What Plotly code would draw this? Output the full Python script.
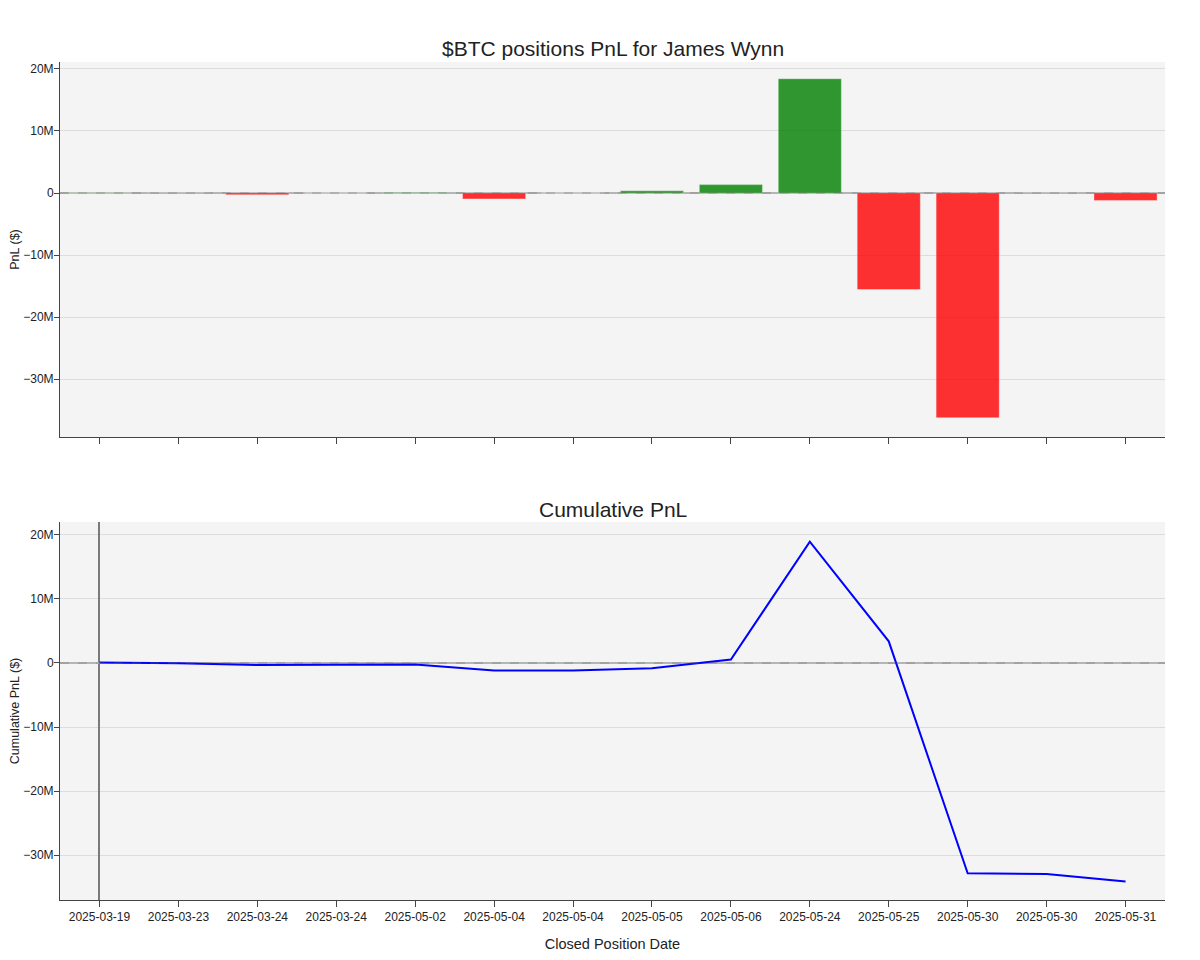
import numpy as np
import plotly.graph_objects as go
from plotly.subplots import make_subplots

dates = ["2025-03-19", "2025-03-23", "2025-03-24", "2025-03-24", "2025-05-02",
         "2025-05-04", "2025-05-04", "2025-05-05", "2025-05-06", "2025-05-24",
         "2025-05-25", "2025-05-30", "2025-05-30", "2025-05-31"]
pnl = [0.05e6, -0.08e6, -0.3e6, 0.0, 0.1e6, -0.95e6, 0.0, 0.35e6, 1.35e6,
       18.4e6, -15.55e6, -36.2e6, -0.1e6, -1.2e6]

idx = list(range(len(dates)))
cum = np.cumsum(pnl)
colors = ["green" if v >= 0 else "red" for v in pnl]

fig = make_subplots(rows=2, cols=1, vertical_spacing=0.1,
                    subplot_titles=("$BTC positions PnL for James Wynn", "Cumulative PnL"))

fig.add_trace(go.Bar(x=idx, y=pnl, marker=dict(color=colors, opacity=0.8,
                     line=dict(color="rgba(255,255,255,0.6)", width=0.6)),
                     width=0.8, showlegend=False), row=1, col=1)
fig.add_trace(go.Scatter(x=idx, y=cum, mode="lines", line=dict(color="blue", width=2),
                         showlegend=False), row=2, col=1)

for r in (1, 2):
    fig.add_hline(y=0, line=dict(color="#666666", dash="dash", width=1.6), row=r, col=1)

axis_common = dict(showline=True, linecolor="#444", linewidth=1, ticks="outside",
                   tickcolor="#444", mirror=False, automargin=False)
fig.update_xaxes(**axis_common, ticklen=6, tickmode="array", tickvals=idx, ticktext=dates,
                 range=[-0.5, 13.5], showgrid=False, tickfont=dict(size=12))
fig.update_xaxes(showticklabels=False, zeroline=False, row=1, col=1)
fig.update_xaxes(zeroline=True, zerolinecolor="#7a7a7a", zerolinewidth=1.5,
                 title=dict(text="Closed Position Date", font=dict(size=14.5)), row=2, col=1)
fig.update_yaxes(**axis_common, ticklen=5, ticklabelstandoff=-2,
                 showgrid=True, gridcolor="#dcdcdc", gridwidth=1,
                 zeroline=True, zerolinecolor="#b5b5b5", zerolinewidth=2,
                 tickvals=[-30e6, -20e6, -10e6, 0, 10e6, 20e6],
                 ticktext=["−30M", "−20M", "−10M", "0", "10M", "20M"],
                 tickfont=dict(size=12))
fig.update_yaxes(title=dict(text="PnL ($)", font=dict(size=12.5)),
                 range=[-39.3e6, 21.1e6], domain=[0.5525, 1.0], row=1, col=1)
fig.update_yaxes(title=dict(text="Cumulative PnL ($)", font=dict(size=12.5)),
                 range=[-37.0e6, 22.0e6], domain=[0.0, 0.4511], row=2, col=1)

fig.update_annotations(font=dict(size=21, color="#222"))
fig.update_layout(
    width=1200, height=960,
    template="simple_white",
    plot_bgcolor="#f4f4f4", paper_bgcolor="white",
    font=dict(family="Liberation Sans, Arial, sans-serif", size=12, color="#222"),
    margin=dict(l=52, r=43, t=54, b=68),
    bargap=0.2,
)

fig.write_html("out.html")
